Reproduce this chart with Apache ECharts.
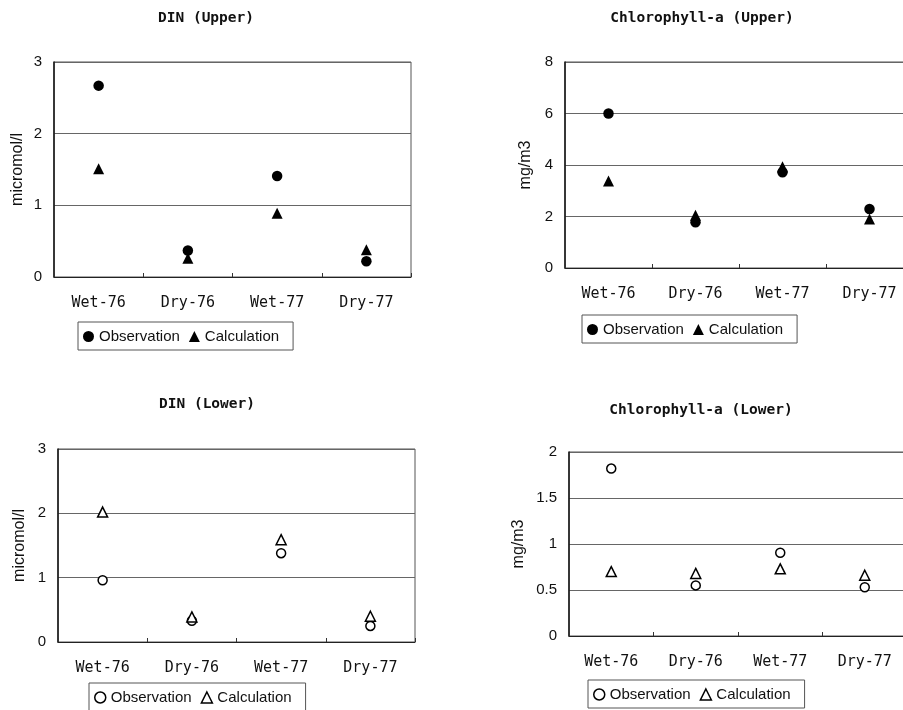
<!DOCTYPE html>
<html>
<head>
<meta charset="utf-8">
<script src="https://cdn.jsdelivr.net/npm/echarts@6/dist/echarts.min.js"></script>
<style>
html,body{margin:0;padding:0;background:#fff;}
#chart{width:903px;height:710px;}
</style>
</head>
<body>
<div id="chart"></div>
<script>
const categories = ['Wet-76', 'Dry-76', 'Wet-77', 'Dry-77'];
const dinUpperObs = [2.67, 0.37, 1.41, 0.22];
const dinUpperCalc = [1.51, 0.26, 0.89, 0.38];
const chlUpperObs = [6.0, 1.78, 3.72, 2.29];
const chlUpperCalc = [3.38, 2.05, 3.93, 1.90];
const dinLowerObs = [0.96, 0.33, 1.38, 0.25];
const dinLowerCalc = [2.02, 0.39, 1.59, 0.40];
const chlLowerObs = [1.82, 0.55, 0.905, 0.53];
const chlLowerCalc = [0.70, 0.68, 0.73, 0.66];
const titles = ['DIN (Upper)', 'Chlorophyll-a (Upper)', 'DIN (Lower)', 'Chlorophyll-a (Lower)'];
const yNames = ['micromol/l', 'mg/m3', 'micromol/l', 'mg/m3'];
const yMax = [3, 8, 3, 2];
const yInterval = [1, 2, 1, 0.5];

const grids = [
  {left: 54, top: 62, width: 357, height: 215},
  {left: 565, top: 62, width: 348, height: 206},
  {left: 58, top: 449, width: 357, height: 193},
  {left: 569, top: 452, width: 338, height: 184}
];
const titlePos = [[206, 11], [702, 11], [207, 397], [701, 403]];
const nameGaps = [28, 31, 30, 42];
const legendPos = [[78, 322], [582, 315], [89, 683], [588, 680]];

const obsData = [dinUpperObs, chlUpperObs, dinLowerObs, chlLowerObs];
const calcData = [dinUpperCalc, chlUpperCalc, dinLowerCalc, chlLowerCalc];

const filled = {color: '#000', borderColor: '#000', borderWidth: 0, opacity: 1};
const hollow = {color: '#fff', borderColor: '#000', borderWidth: 1.5, opacity: 1};

const option = {
  animation: false,
  backgroundColor: '#fff',
  title: titles.map((t, i) => ({
    text: t,
    left: titlePos[i][0],
    top: titlePos[i][1],
    textAlign: 'center',
    padding: 0,
    textStyle: {fontFamily: 'DejaVu Sans Mono', fontSize: 14.5, fontWeight: 'bold', color: '#111'}
  })),
  grid: grids.map(g => Object.assign({
    show: true, borderColor: '#555', borderWidth: 1, backgroundColor: 'transparent',
    containLabel: false, outerBoundsMode: 'none'
  }, g)),
  xAxis: grids.map((g, i) => ({
    type: 'category',
    gridIndex: i,
    data: categories,
    boundaryGap: true,
    axisLine: {show: true, lineStyle: {color: '#222', width: 1}},
    axisTick: {show: true, inside: true, length: 4, lineStyle: {color: '#333'}},
    axisLabel: {fontFamily: 'DejaVu Sans Mono', fontSize: 15, color: '#111', margin: 19},
    splitLine: {show: false}
  })),
  yAxis: grids.map((g, i) => ({
    type: 'value',
    gridIndex: i,
    min: 0,
    max: yMax[i],
    interval: yInterval[i],
    name: yNames[i],
    nameLocation: 'middle',
    nameGap: nameGaps[i],
    nameTextStyle: {fontFamily: 'Liberation Sans', fontSize: 16, color: '#111'},
    axisLine: {show: true, lineStyle: {color: '#111', width: 1.5}},
    axisTick: {show: false},
    axisLabel: {fontFamily: 'Liberation Sans', fontSize: 15, color: '#111', margin: 12},
    splitLine: {show: true, lineStyle: {color: '#666', width: 1}}
  })),
  legend: legendPos.map((p, i) => {
    const st = i < 2 ? filled : hollow;
    return {
      left: p[0], top: p[1],
      orient: 'horizontal',
      borderColor: '#555', borderWidth: 1,
      padding: [7, 14, 6, 5],
      itemGap: 9, itemWidth: 11, itemHeight: 11,
      selectedMode: false,
      textStyle: {fontFamily: 'Liberation Sans', fontSize: 15, color: '#111'},
      data: [
        {name: 'Observation', icon: 'circle', itemStyle: Object.assign({}, st)},
        {name: 'Calculation', icon: 'triangle', itemStyle: Object.assign({}, st)}
      ]
    };
  }),
  series: []
};

for (let i = 0; i < 4; i++) {
  const st = i < 2 ? filled : hollow;
  option.series.push({
    type: 'scatter', name: 'Observation', xAxisIndex: i, yAxisIndex: i,
    symbol: 'circle', symbolSize: i < 2 ? 10.5 : 9,
    itemStyle: Object.assign({}, st),
    data: obsData[i]
  });
  option.series.push({
    type: 'scatter', name: 'Calculation', xAxisIndex: i, yAxisIndex: i,
    symbol: 'triangle', symbolSize: i < 2 ? 11 : 10,
    itemStyle: Object.assign({}, st),
    data: calcData[i]
  });
}

const chart = echarts.init(document.getElementById('chart'), null, {renderer: 'canvas'});
chart.setOption(option);
</script>
</body>
</html>
